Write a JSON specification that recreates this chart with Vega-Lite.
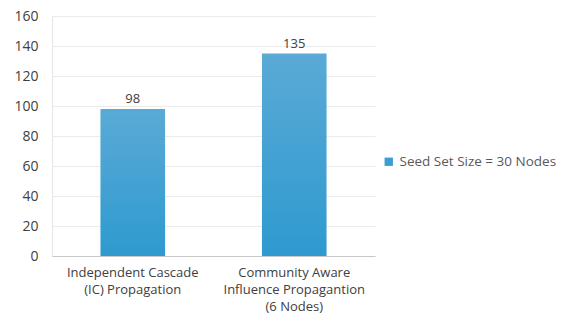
{
  "$schema": "https://vega.github.io/schema/vega-lite/v6.json",
  "width": 323,
  "height": 240,
  "autosize": {"type": "none"},
  "padding": {"left": 52, "top": 16, "right": 206, "bottom": 64},
  "background": "white",
  "config": {
    "view": {"stroke": null},
    "font": "Open Sans"
  },
  "data": {
    "values": [
      {"method": "Independent Cascade|(IC) Propagation", "value": 98, "series": "Seed Set Size = 30 Nodes"},
      {"method": "Community Aware|Influence Propagantion|(6 Nodes)", "value": 135, "series": "Seed Set Size = 30 Nodes"}
    ]
  },
  "encoding": {
    "x": {
      "field": "method", "type": "nominal", "sort": null,
      "scale": {"paddingInner": 0, "paddingOuter": 0},
      "axis": {
        "title": null, "labelAngle": 0, "labelExpr": "split(datum.label, '|')",
        "labelFontSize": 13, "labelColor": "#404040", "labelLineHeight": 17,
        "labelPadding": 10, "ticks": false, "domainColor": "#c8c8c8", "labelFont": "Open Sans"
      }
    },
    "y": {
      "field": "value", "type": "quantitative",
      "scale": {"domain": [0, 160], "nice": false},
      "axis": {
        "title": null, "values": [0, 20, 40, 60, 80, 100, 120, 140, 160],
        "labelFontSize": 14, "labelColor": "#404040", "labelPadding": 14,
        "ticks": false, "domainColor": "#e6e6e6", "gridColor": "#ebebeb", "labelFont": "Open Sans"
      }
    }
  },
  "layer": [
    {
      "mark": {
        "type": "bar", "width": {"band": 0.4},
        "fill": {
          "gradient": "linear", "x1": 0, "y1": 0, "x2": 0, "y2": 1,
          "stops": [
            {"offset": 0, "color": "#5aaad6"},
            {"offset": 1, "color": "#2e9acf"}
          ]
        }
      }
    },
    {
      "mark": {"type": "point", "shape": "square", "opacity": 0, "filled": true},
      "encoding": {
        "color": {
          "field": "series", "type": "nominal",
          "scale": {"range": ["#3a9fd3"]},
          "legend": {
            "title": null, "orient": "none", "legendX": 330, "legendY": 139,
            "symbolType": "square", "symbolOpacity": 1, "symbolSize": 70,
            "labelFontSize": 13.5, "labelColor": "#595959", "labelFont": "Open Sans"
          }
        }
      }
    },
    {
      "mark": {"type": "text", "dy": -10, "fontSize": 13, "color": "#404040", "font": "Open Sans"},
      "encoding": {"text": {"field": "value", "type": "quantitative"}}
    }
  ]
}
